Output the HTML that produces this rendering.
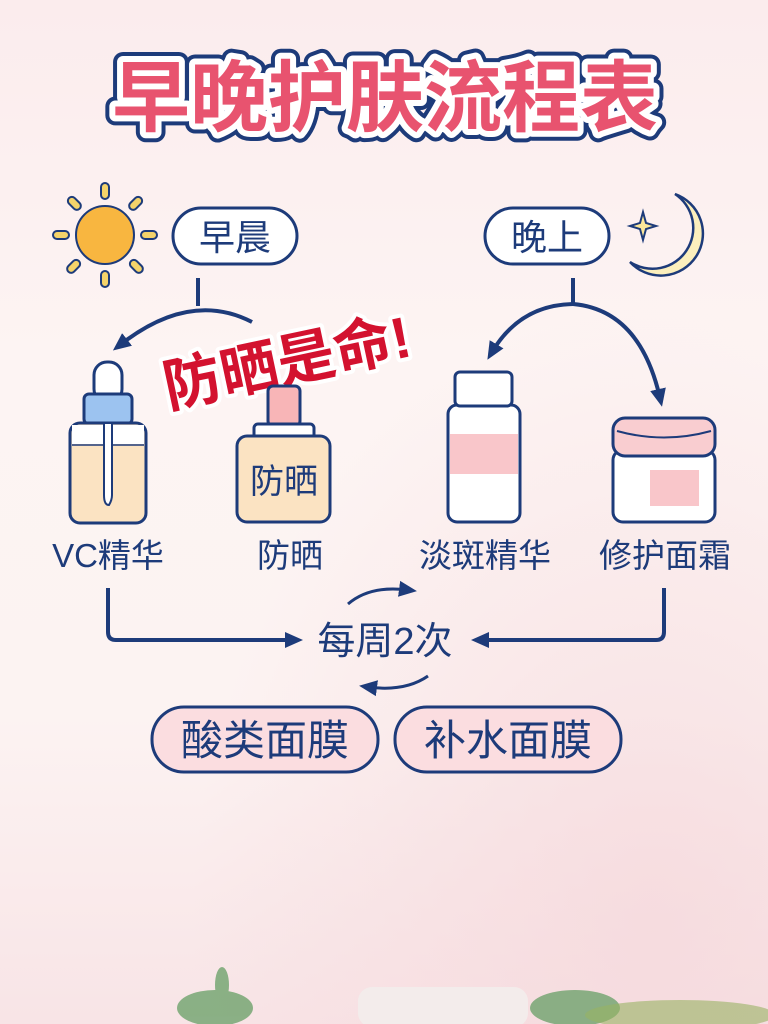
<!DOCTYPE html>
<html><head><meta charset="utf-8"><style>
html,body{margin:0;padding:0;width:768px;height:1024px;overflow:hidden}
body{background:linear-gradient(180deg,#fbeced 0%,#fdf4f3 35%,#fcf3f2 70%,#f8e4e6 100%);font-family:"Liberation Sans","Noto Sans CJK SC",sans-serif}
svg text{font-family:"Liberation Sans","Noto Sans CJK SC",sans-serif}
</style></head><body>
<svg width="768" height="1024" viewBox="0 0 768 1024" xmlns="http://www.w3.org/2000/svg">
<defs>
<radialGradient id="bg2" cx="0.85" cy="0.9" r="0.6"><stop offset="0" stop-color="#f5d6da" stop-opacity="0.7"/><stop offset="1" stop-color="#f5d6da" stop-opacity="0"/></radialGradient>
<marker id="ahb" markerWidth="18" markerHeight="18" refX="9" refY="9" orient="auto" markerUnits="userSpaceOnUse" viewBox="0 0 18 18"><path d="M0,1 L18,9 L0,17 Z" fill="#1d3b7a"/></marker>
</defs>
<rect width="768" height="1024" fill="url(#bg2)"/>
<!-- title -->
<g font-size="78" font-weight="bold" text-anchor="middle">
<text x="385" y="125" stroke="#1d3b7a" stroke-width="20" stroke-linejoin="round" fill="#1d3b7a">早晚护肤流程表</text>
<text x="385" y="125" stroke="#fff" stroke-width="12" stroke-linejoin="round" fill="#fff">早晚护肤流程表</text>
<text x="385" y="125" fill="#e8536f">早晚护肤流程表</text>
</g>
<!-- sun -->
<g stroke="#1d3b7a" stroke-width="2">
<circle cx="105" cy="235" r="29" fill="#f8b640"/>
<g fill="#f4d36a">
<rect x="101" y="183" width="8" height="16" rx="4"/><rect x="101" y="271" width="8" height="16" rx="4"/>
<rect x="53" y="231" width="16" height="8" rx="4"/><rect x="141" y="231" width="16" height="8" rx="4"/>
<rect x="70" y="196" width="8" height="15" rx="4" transform="rotate(-45 74 203)"/>
<rect x="132" y="196" width="8" height="15" rx="4" transform="rotate(45 136 203)"/>
<rect x="70" y="259" width="8" height="15" rx="4" transform="rotate(45 74 266)"/>
<rect x="132" y="259" width="8" height="15" rx="4" transform="rotate(-45 136 266)"/>
</g></g>
<!-- moon -->
<path d="M675,194 A42,42 0 1 1 630,262 A30,30 0 0 0 675,194 Z" fill="#fbefbd" stroke="#1d3b7a" stroke-width="2.5"/>
<path d="M643,212 L646,223 L656,226 L646,229 L643,240 L640,229 L630,226 L640,223 Z" fill="#fbe79a" stroke="#1d3b7a" stroke-width="2"/>
<!-- pills -->
<rect x="173" y="208" width="124" height="56" rx="28" fill="#fff" stroke="#1d3b7a" stroke-width="3"/>
<text x="235" y="250" font-size="36" text-anchor="middle" fill="#1d3b7a">早晨</text>
<rect x="485" y="208" width="124" height="56" rx="28" fill="#fff" stroke="#1d3b7a" stroke-width="3"/>
<text x="547" y="250" font-size="36" text-anchor="middle" fill="#1d3b7a">晚上</text>
<!-- arrows top -->
<g fill="none" stroke="#1d3b7a" stroke-width="4">
<path d="M198,278 V306"/>
<path d="M252,322 Q190,290 120,345" marker-end="url(#ahb)"/>
<path d="M573,278 V304"/>
<path d="M573,304 Q520,305 492,352" marker-end="url(#ahb)"/>
<path d="M573,304 Q640,310 660,398" marker-end="url(#ahb)"/>
</g>
<!-- red text -->
<g transform="rotate(-12 287 362)" font-size="58" font-weight="bold" text-anchor="middle">
<text x="287" y="382" stroke="#fff" stroke-width="8" stroke-linejoin="round" fill="#fff">防晒是命!</text>
<text x="287" y="382" fill="#d3122f">防晒是命!</text>
</g>
<!-- VC bottle -->
<g stroke="#1d3b7a" stroke-width="3">
<rect x="94" y="362" width="28" height="40" rx="13" fill="#fff"/>
<rect x="84" y="394" width="48" height="30" rx="5" fill="#9cc3f0"/>
<rect x="70" y="423" width="76" height="100" rx="10" fill="#fbe3c2"/>
</g>
<rect x="72" y="425" width="72" height="19" fill="#fff"/>
<path d="M72,445 H144" stroke="#1d3b7a" stroke-width="1.5"/>
<path d="M104,424 V495 Q104,505 109,505 Q112,500 112,495 V424" fill="#fff" stroke="#1d3b7a" stroke-width="2"/>
<!-- sunscreen -->
<g stroke="#1d3b7a" stroke-width="3">
<rect x="268" y="386" width="32" height="40" rx="5" fill="#f8b5b7"/>
<rect x="254" y="424" width="60" height="18" rx="4" fill="#fff"/>
<rect x="237" y="436" width="93" height="86" rx="10" fill="#fbe3c2"/>
</g>
<text x="284" y="493" font-size="34" text-anchor="middle" fill="#1d3b7a">防晒</text>
<!-- serum -->
<g stroke="#1d3b7a" stroke-width="3">
<rect x="448" y="405" width="72" height="117" rx="9" fill="#fff"/>
<rect x="455" y="372" width="57" height="34" rx="5" fill="#fff"/>
</g>
<rect x="450" y="434" width="68" height="40" fill="#f9c6ca"/>
<!-- jar -->
<g stroke="#1d3b7a" stroke-width="3">
<rect x="613" y="450" width="102" height="72" rx="10" fill="#fff"/>
<rect x="613" y="418" width="102" height="38" rx="12" fill="#f9cdd0"/>
<path d="M617,431 Q664,444 711,431" fill="none" stroke-width="2"/>
</g>
<rect x="650" y="470" width="49" height="36" fill="#f9c6ca"/>
<!-- labels -->
<g font-size="33" text-anchor="middle" fill="#1d3b7a">
<text x="108" y="567">VC精华</text>
<text x="290" y="567">防晒</text>
<text x="485" y="567">淡斑精华</text>
<text x="665" y="567">修护面霜</text>
</g>
<!-- bottom connectors -->
<g fill="none" stroke="#1d3b7a" stroke-width="4">
<path d="M108,588 V632 Q108,640 116,640 H294" marker-end="url(#ahb)"/>
<path d="M664,588 V632 Q664,640 656,640 H480" marker-end="url(#ahb)"/>
<path d="M348,604 Q370,585 408,590" stroke-width="3" marker-end="url(#ahb)"/>
<path d="M428,676 Q405,692 368,687" stroke-width="3" marker-end="url(#ahb)"/>
</g>
<text x="385" y="654" font-size="38" text-anchor="middle" fill="#1d3b7a">每周2次</text>
<rect x="152" y="707" width="226" height="65" rx="32" fill="#fbdde0" stroke="#1d3b7a" stroke-width="3"/>
<text x="265" y="755" font-size="42" text-anchor="middle" fill="#1d3b7a">酸类面膜</text>
<rect x="395" y="707" width="226" height="65" rx="32" fill="#fbdde0" stroke="#1d3b7a" stroke-width="3"/>
<text x="508" y="755" font-size="42" text-anchor="middle" fill="#1d3b7a">补水面膜</text>
<!-- bottom decor -->
<rect x="358" y="987" width="170" height="40" rx="14" fill="#f3eceb"/>
<g fill="#5c9a5c" opacity="0.7">
<ellipse cx="215" cy="1008" rx="38" ry="18"/><ellipse cx="222" cy="985" rx="7" ry="18"/>
<ellipse cx="575" cy="1008" rx="45" ry="18"/>
</g>
<g fill="#98b363" opacity="0.6">
<ellipse cx="680" cy="1015" rx="95" ry="15"/>
</g>
</svg>
</body></html>
